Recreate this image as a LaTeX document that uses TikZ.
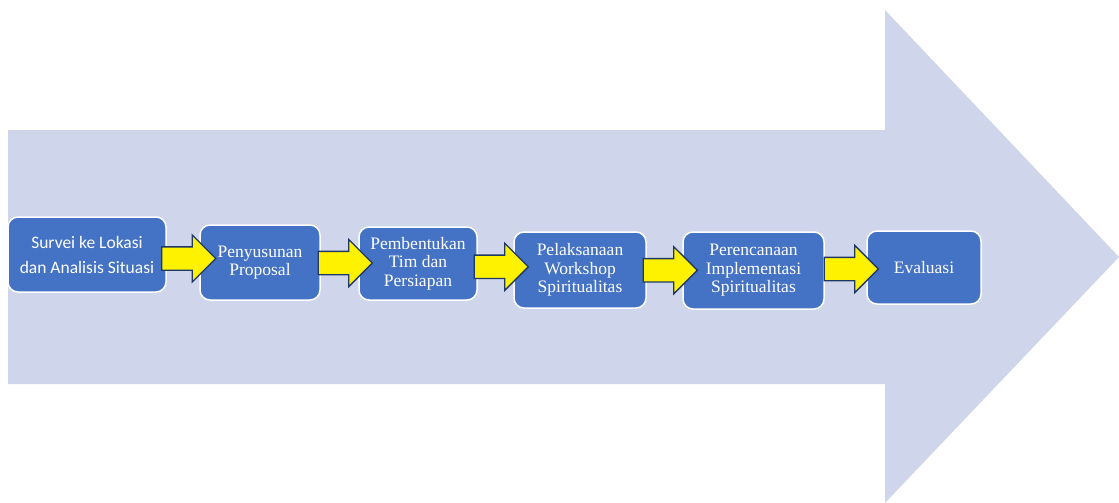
\documentclass[tikz,border=0pt]{standalone}
\usepackage{fontspec}
\setmainfont{Liberation Serif}
\newfontfamily\calfont{Carlito}
\usetikzlibrary{shapes.arrows,calc}
\definecolor{bandfill}{HTML}{CFD5EA}
\definecolor{stepfill}{HTML}{4472C4}
\definecolor{arrowline}{HTML}{203864}

\begin{document}
\begin{tikzpicture}[x=1pt, y=-1pt,
	stepbox/.style={draw=white, line width=1.5pt, fill=stepfill, rounded corners=10pt, text=white, align=center, inner sep=0pt, font=\fontsize{17.5}{18.5}\selectfont},
	flowarrow/.style={single arrow, draw=arrowline, line width=1.3pt, fill=yellow, single arrow head extend=12pt, single arrow head indent=0pt, minimum height=54pt, minimum width=46pt, inner xsep=0pt, inner ysep=11pt}]
					\useasboundingbox (0,0) rectangle (1119,503);
					% big background arrow
					\fill[bandfill] (8,130) -- (885,130) -- (885,10) -- (1119,257) -- (885,503) -- (885,384) -- (8,384) -- cycle;
					\node[stepbox, minimum width=158pt, minimum height=75pt, font=\calfont\fontsize{17.5}{25}\selectfont] (survei)at(87, 254.5) {Survei ke Lokasi\\dan Analisis Situasi};
					\node[stepbox, minimum width=120pt, minimum height=75pt] (proposal)at(260, 262.5) {Penyusunan\\Proposal};
					\node[stepbox, minimum width=118pt, minimum height=73pt] (tim)at(418, 263.5) {Pembentukan\\Tim dan\\Persiapan};
					\node[stepbox, minimum width=132pt, minimum height=76pt] (workshop)at(580, 270) {Pelaksanaan\\Workshop\\Spiritualitas};
					\node[stepbox, minimum width=141pt, minimum height=77pt] (rencana)at(753.5, 270.5) {Perencanaan\\Implementasi\\Spiritualitas};
					\node[stepbox, minimum width=114pt, minimum height=73pt] (evaluasi)at(924, 267.5) {Evaluasi};
					% yellow arrows between the steps
					\node[flowarrow] (A1)at($(survei.east)!0.5!(proposal.west)$) {};
					\node[flowarrow] (A2)at($(proposal.east)!0.5!(tim.west)$) {};
					\node[flowarrow] (A3)at($(tim.east)!0.5!(workshop.west)$) {};
					\node[flowarrow] (A4)at($(workshop.east)!0.5!(rencana.west)$) {};
					\node[flowarrow] (A5)at($(rencana.east)!0.5!(evaluasi.west)$) {};
				\end{tikzpicture}
\end{document}
